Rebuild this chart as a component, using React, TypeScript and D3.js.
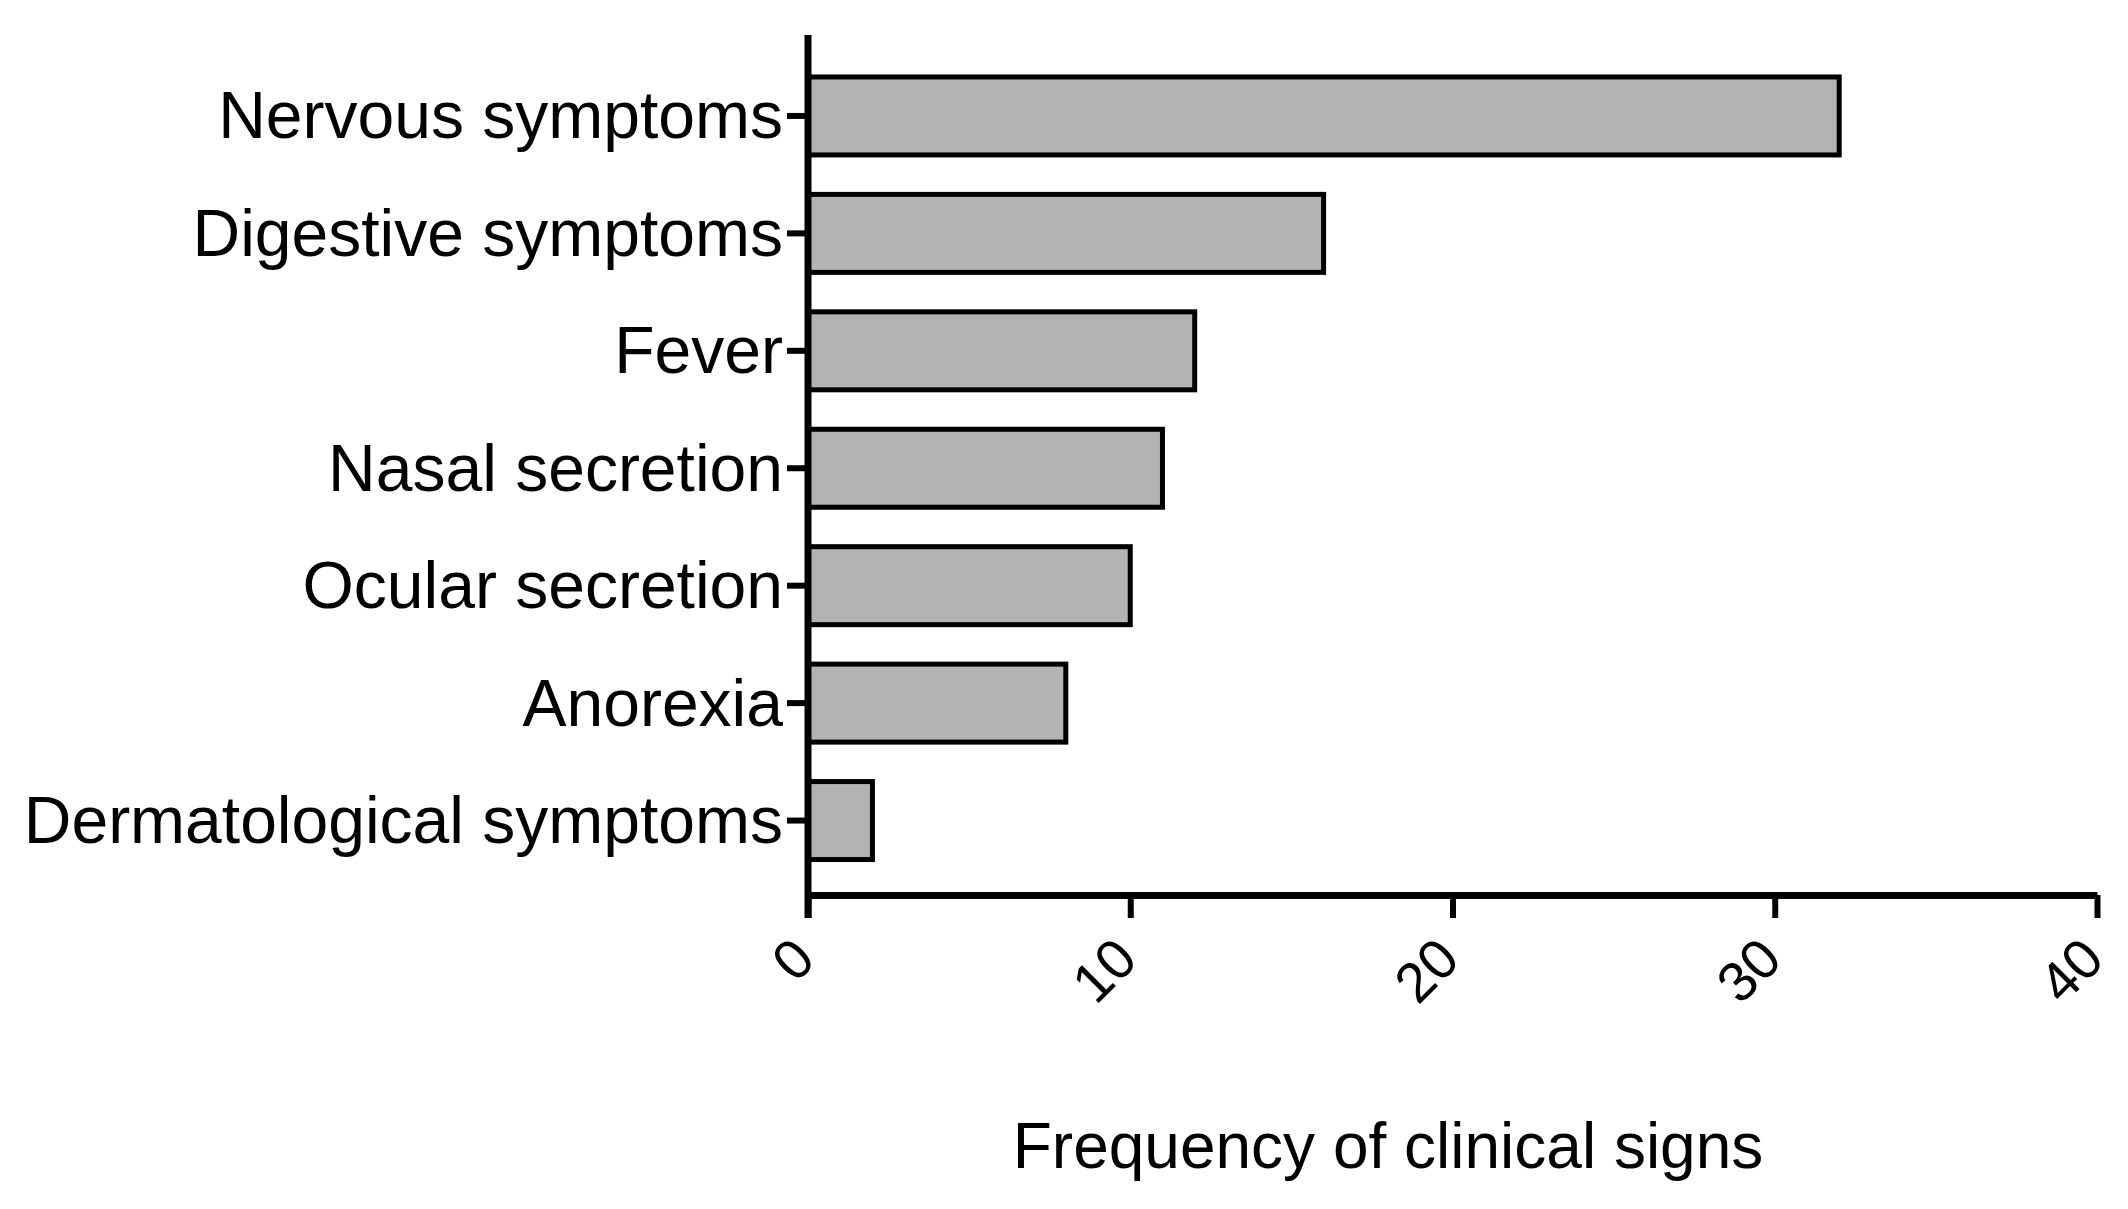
import { useEffect, useRef } from "react";
import * as d3 from "d3";

const categories = [
  "Nervous symptoms",
  "Digestive symptoms",
  "Fever",
  "Nasal secretion",
  "Ocular secretion",
  "Anorexia",
  "Dermatological symptoms",
];
const frequencies = [32, 16, 12, 11, 10, 8, 2];
const xTicks = [0, 10, 20, 30, 40];
const xTitle = "Frequency of clinical signs";

const WIDTH = 2128;
const HEIGHT = 1209;
const FONT = "'Liberation Sans', Arial, Helvetica, sans-serif";

export default function App() {
  const svgRef = useRef<SVGSVGElement>(null);

  useEffect(() => {
    const svg = d3.select(svgRef.current);
    if (!svg.node()) return;
    svg.selectAll("*").remove();

    const x = d3.scaleLinear().domain([0, 40]).range([808, 2097]);
    const y = d3
      .scaleBand<string>()
      .domain(categories)
      .range([41.5, 895])
      .paddingInner(0.336)
      .paddingOuter(0.302);

    // bars
    svg
      .append("g")
      .selectAll("rect")
      .data(frequencies)
      .join("rect")
      .attr("x", x(0))
      .attr("y", (_, i) => y(categories[i])!)
      .attr("width", (d) => x(d) - x(0))
      .attr("height", y.bandwidth())
      .attr("fill", "#b3b3b3")
      .attr("stroke", "#000")
      .attr("stroke-width", 5);

    // y axis
    const yAxis = svg
      .append("g")
      .attr("transform", `translate(${x(0)},0)`)
      .call(d3.axisLeft(y).tickSize(21).tickPadding(4));
    yAxis.select(".domain").remove();
    yAxis.selectAll(".tick line").attr("stroke", "#000").attr("stroke-width", 6);
    yAxis
      .selectAll(".tick text")
      .attr("fill", "#000")
      .attr("font-family", FONT)
      .attr("font-size", 66)
      .attr("dy", "0.34em");
    svg
      .append("line")
      .attr("x1", x(0))
      .attr("x2", x(0))
      .attr("y1", 35)
      .attr("y2", 918)
      .attr("stroke", "#000")
      .attr("stroke-width", 7);

    // x axis
    const xAxis = svg
      .append("g")
      .attr("transform", `translate(0,895)`)
      .call(d3.axisBottom(x).tickValues(xTicks).tickSize(23).tickSizeOuter(0));
    xAxis.select(".domain").attr("stroke", "#000").attr("stroke-width", 7);
    xAxis.selectAll(".tick line").attr("stroke", "#000").attr("stroke-width", 6);
    xAxis
      .selectAll(".tick text")
      .attr("fill", "#000")
      .attr("font-family", FONT)
      .attr("font-size", 56)
      .attr("text-anchor", "end")
      .attr("y", 0)
      .attr("dy", 0)
      .attr("transform", "translate(9,67) rotate(-45)");

    svg
      .append("text")
      .attr("x", 1388)
      .attr("y", 1168)
      .attr("text-anchor", "middle")
      .attr("font-family", FONT)
      .attr("font-size", 64)
      .attr("fill", "#000")
      .text(xTitle);
  }, []);

  return (
    <svg
      ref={svgRef}
      width={WIDTH}
      height={HEIGHT}
      viewBox={`0 0 ${WIDTH} ${HEIGHT}`}
      style={{ position: "absolute", left: 0, top: 0, background: "#fff" }}
    />
  );
}
